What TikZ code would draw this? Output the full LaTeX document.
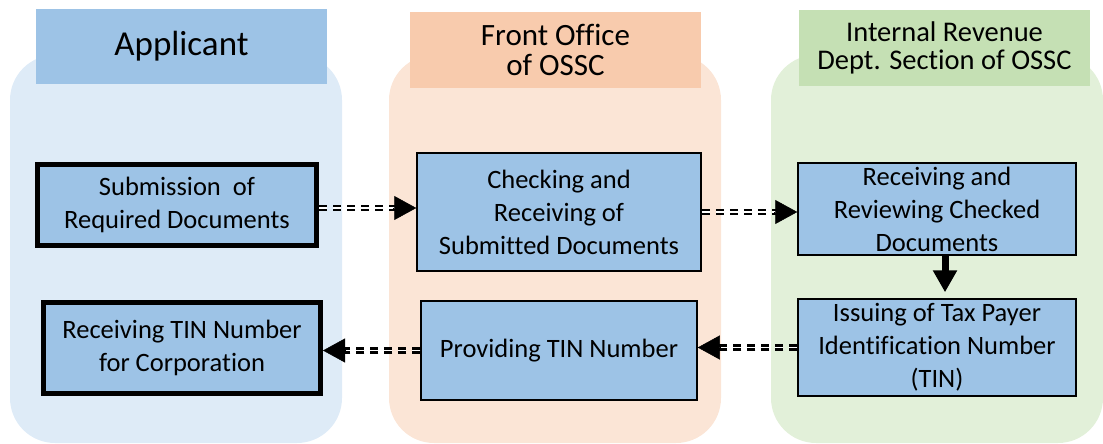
\documentclass[tikz,border=0pt]{standalone}
\usepackage{fontspec}
\setmainfont[Ligatures=NoCommon]{Carlito}
\usetikzlibrary{arrows.meta,calc}
\definecolor{laneB}{HTML}{DEEBF7}
\definecolor{laneO}{HTML}{FBE5D6}
\definecolor{laneG}{HTML}{E2F0D9}
\definecolor{headB}{HTML}{9DC3E6}
\definecolor{headO}{HTML}{F8CBAD}
\definecolor{headG}{HTML}{C5E0B4}
\definecolor{boxB}{HTML}{9DC3E6}
\tikzset{
  lane/.style={rounded corners=45pt},
  head/.style={draw=none, inner sep=0pt, align=center, font=\fontsize{29}{29}\selectfont},
  stepbox/.style={draw=black, fill=boxB, line width=1.5pt, inner sep=0pt, align=center, font=\fontsize{26.5}{33}\selectfont},
  thickbox/.style={stepbox, line width=5pt},
  dashdbl/.style={draw=black, line width=2.5pt, double=white, double distance=1.2pt, dash pattern=on 8pt off 6pt},
  tiparrow/.style={-{Triangle[length=22pt,width=24pt]}, line width=0.5pt, draw=black, fill=black},
  downarrow/.style={-{Triangle[length=22pt,width=23pt]}, line width=7pt, draw=black}
}
\begin{document}
\begin{tikzpicture}[x=1pt,y=-1pt]
\useasboundingbox (0,0) rectangle (1103,444);
% lanes
\fill[laneB, lane] (10,55) rectangle (342,443);
\fill[laneO, lane] (389,55) rectangle (721,443);
\fill[laneG, lane] (771,55) rectangle (1103,443);
% headers
\node[head, fill=headB, minimum width=291pt, minimum height=75pt, font=\fontsize{35}{35}\selectfont] (hA) at (181.5,46.5) {Applicant};
\node[head, fill=headO, minimum width=291pt, minimum height=76pt, font=\fontsize{31}{30}\selectfont] (hO) at (555.5,50) {Front Office\\of OSSC};
\node[head, fill=headG, minimum width=291pt, minimum height=76pt, font=\fontsize{28.5}{28}\selectfont] (hG) at (944.5,48) {Internal Revenue\\Dept. Section of OSSC};
% boxes
\node[thickbox, minimum width=279pt, minimum height=81pt] (sub) at (177,205) {Submission\ \ of\\Required Documents};
\node[thickbox, minimum width=277pt, minimum height=91pt] (rtin) at (182,348) {Receiving TIN Number\\for Corporation};
\node[stepbox, minimum width=284pt, minimum height=118pt] (chk) at (559,212) {Checking and\\Receiving of\\Submitted Documents};
\node[stepbox, minimum width=276pt, minimum height=99pt] (prov) at (559,350.5) {Providing TIN Number};
\node[stepbox, minimum width=278pt, minimum height=92pt] (recv) at (937,209) {Receiving and\\Reviewing Checked\\Documents};
\node[stepbox, minimum width=278pt, minimum height=97pt] (iss) at (937,347.5) {Issuing of Tax Payer\\Identification Number\\(TIN)};
% dashed connectors
\coordinate (a1s) at ($(sub.east)+(0,3)$);
\coordinate (a1e) at (a1s -| chk.west);
\draw[dashdbl] (a1s) -- ($(a1e)+(-20,0)$);
\draw[tiparrow] ($(a1e)+(-23,0)$) -- (a1e);
\coordinate (a2e) at (chk.east -| recv.west);
\draw[dashdbl] (chk.east) -- ($(a2e)+(-20,0)$);
\draw[tiparrow] ($(a2e)+(-23,0)$) -- (a2e);
\coordinate (a3e) at (iss.west -| prov.east);
\draw[dashdbl] (iss.west) -- ($(a3e)+(20,0)$);
\draw[tiparrow] ($(a3e)+(23,0)$) -- (a3e);
\coordinate (a4e) at (prov.west -| rtin.east);
\draw[dashdbl] (prov.west) -- ($(a4e)+(20,0)$);
\draw[tiparrow] ($(a4e)+(23,0)$) -- (a4e);
% solid down arrow
\draw[downarrow] ([xshift=8pt]recv.south) -- ([xshift=8pt,yshift=6pt]iss.north);
\end{tikzpicture}
\end{document}
